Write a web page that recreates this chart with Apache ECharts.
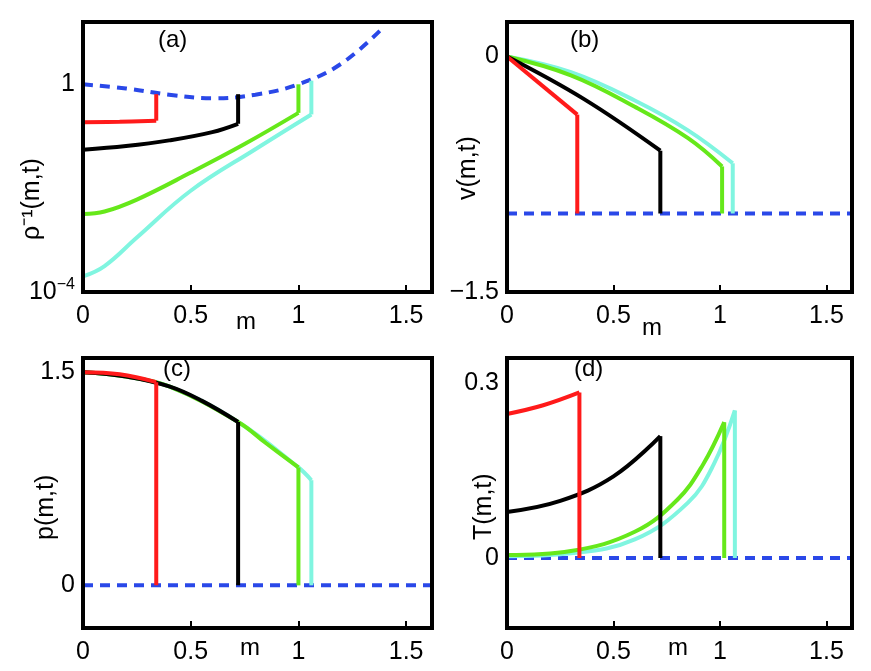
<!DOCTYPE html>
<html><head><meta charset="utf-8">
<script src="https://cdn.jsdelivr.net/npm/echarts@6/dist/echarts.min.js"></script>
<style>html,body{margin:0;background:#fff}#c{width:871px;height:671px}</style></head>
<body><div id="c"></div>
<script>
// panel (a): log10 of rho^-1; each curve then a vertical front to its top value
const aBlue=[[0,0],[0.2,-0.08],[0.4,-0.2],[0.6,-0.27],[0.8,-0.2],[1.0,0],[1.2,0.4],[1.4,1.12]];
const aRed=[[0,-0.73],[0.17,-0.72],[0.34,-0.7]], aRedTop=-0.19;
const aBlack=[[0,-1.26],[0.2,-1.19],[0.4,-1.08],[0.6,-0.92],[0.72,-0.76]], aBlackTop=-0.19;
const aGreen=[[0,-2.5],[0.1,-2.45],[0.25,-2.22],[0.5,-1.7],[0.75,-1.15],[1.0,-0.55]], aGreenTop=0;
const aCyan=[[0,-3.7],[0.1,-3.5],[0.25,-2.95],[0.5,-2.05],[0.8,-1.25],[1.06,-0.58]], aCyanTop=0.07;
// panel (b)
const bBlue=[[0,-1],[1.62,-1]], bBase=-1;
const bRed=[[0,0],[0.33,-0.37]];
const bBlack=[[0,0],[0.36,-0.27],[0.72,-0.6]];
const bGreen=[[0,0],[0.3,-0.12],[0.6,-0.32],[0.85,-0.52],[1.01,-0.7]];
const bCyan=[[0,0],[0.3,-0.1],[0.6,-0.28],[0.85,-0.47],[1.06,-0.68]];
// panel (c)
const cBlue=[[0,0],[1.62,0]], cBase=0;
const cRed=[[0,1.5],[0.17,1.485],[0.34,1.43]];
const cBlack=[[0,1.5],[0.2,1.47],[0.4,1.4],[0.55,1.3],[0.72,1.15]];
const cGreen=[[0,1.5],[0.2,1.47],[0.4,1.4],[0.72,1.15],[0.85,1.0],[1.0,0.83]];
const cCyan=[[0,1.5],[0.2,1.47],[0.4,1.4],[0.72,1.15],[1.0,0.83],[1.06,0.74]];
// panel (d)
const dBlue=[[0,0],[1.62,0]], dBase=0;
const dRed=[[0,0.247],[0.17,0.262],[0.34,0.284]];
const dBlack=[[0,0.079],[0.25,0.098],[0.5,0.14],[0.72,0.209]];
const dGreen=[[0,0.005],[0.3,0.012],[0.6,0.045],[0.8,0.1],[0.92,0.16],[1.02,0.233]];
const dCyan=[[0,0.003],[0.3,0.008],[0.6,0.032],[0.85,0.095],[0.97,0.16],[1.07,0.253]];
const xTicks=[0,0.5,1,1.5];
const C={red:'#ff1a1a',black:'#000',green:'#66e81a',cyan:'#80f5e0',blue:'#2a48e8'};
const F='Liberation Sans', FS=25;
const grids=[{left:83,top:22,width:349,height:270},{left:507,top:22,width:345,height:270},
 {left:83,top:358,width:349,height:270},{left:507,top:358,width:345,height:270}];
const xAxis=grids.map((g,i)=>({gridIndex:i,type:'value',min:0,max:1.62,interval:0.5,
 axisLine:{show:false,onZero:false},splitLine:{show:false},axisTick:{inside:true,length:7,lineStyle:{width:2,color:'#000'}},
 axisLabel:{fontSize:FS,fontFamily:F,color:'#000',margin:12,showMaxLabel:false,
  formatter:v=>xTicks.some(t=>Math.abs(t-v)<1e-6)?String(v):''}}));
function ya(i,min,max,interval,labs){return {gridIndex:i,type:'value',min,max,interval,
 axisLine:{show:false,onZero:false},splitLine:{show:false},axisTick:{show:false},
 axisLabel:{fontSize:FS,fontFamily:F,color:'#000',margin:8,showMaxLabel:false,
  rich:{s:{fontSize:16,fontFamily:F,color:'#000',verticalAlign:'top',padding:[0,0,14,0]}},
  formatter:v=>{for(const k in labs){if(Math.abs(+k-v)<1e-6)return labs[k];}return '';}}};}
const yAxis=[ya(0,-4,1.2,1,{'-4':'10{s|−4}','0':'1'}),ya(1,-1.5,0.22,0.5,{'0':'0','-1.5':'−1.5'}),
 ya(2,-0.3,1.6,0.3,{'0':'0','1.5':'1.5'}),ya(3,-0.12,0.343,0.03,{'0':'0','0.3':'0.3'})];
const series=[];
function add(i,d,col,dash,smooth){series.push({type:'line',xAxisIndex:i,yAxisIndex:i,data:d,showSymbol:false,
 smooth:smooth?0.4:false,lineStyle:{color:col,width:4,type:dash?[10,7]:'solid'},silent:true});}
function front(i,d,to,col){add(i,d,col,0,1);const l=d[d.length-1];add(i,[[l[0],l[1]],[l[0],to]],col);}
add(0,aBlue,C.blue,1,1);front(0,aRed,aRedTop,C.red);front(0,aBlack,aBlackTop,C.black);
front(0,aGreen,aGreenTop,C.green);front(0,aCyan,aCyanTop,C.cyan);
add(1,bBlue,C.blue,1);front(1,bCyan,bBase,C.cyan);front(1,bGreen,bBase,C.green);front(1,bBlack,bBase,C.black);front(1,bRed,bBase,C.red);
add(2,cBlue,C.blue,1);front(2,cCyan,cBase,C.cyan);front(2,cGreen,cBase,C.green);front(2,cBlack,cBase,C.black);front(2,cRed,cBase,C.red);
add(3,dBlue,C.blue,1);front(3,dCyan,dBase,C.cyan);front(3,dGreen,dBase,C.green);front(3,dBlack,dBase,C.black);front(3,dRed,dBase,C.red);
const T=(x,y,t)=>({type:'text',left:x,top:y,z:20,style:{text:t,fontSize:FS-1,fontFamily:F,fill:'#000'}});
const R=(x,y,t)=>({type:'text',x,y,rotation:Math.PI/2,z:20,style:{text:t,fontSize:FS,fontFamily:F,fill:'#000'}});
const graphic=[...grids.map(g=>({type:'rect',shape:{x:g.left,y:g.top,width:g.width,height:g.height},
  style:{fill:'none',stroke:'#000',lineWidth:4},z:10})),
 T(158,28,'(a)'),T(570,28,'(b)'),T(163,357,'(c)'),T(574,357,'(d)'),
 T(236,310,'m'),T(642,316,'m'),T(240,636,'m'),T(668,636,'m'),
 R(20,240,'ρ⁻¹(m,t)'),R(456,200,'v(m,t)'),R(34,540,'p(m,t)'),R(472,540,'T(m,t)')];
const ch=echarts.init(document.getElementById('c'));
ch.setOption({animation:false,grid:grids,xAxis,yAxis,series,graphic});
</script></body></html>
